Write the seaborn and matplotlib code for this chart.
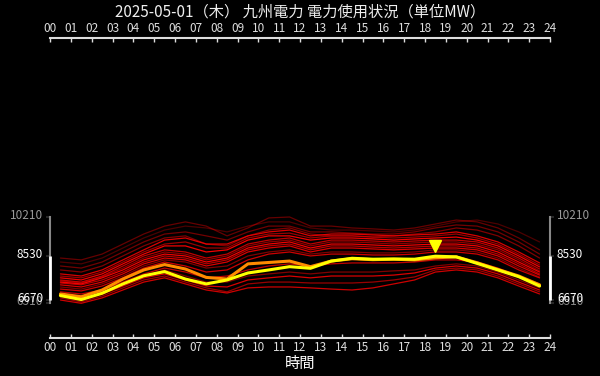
import numpy as np
import pandas as pd
import matplotlib
matplotlib.use("Agg")
import matplotlib.pyplot as plt
import matplotlib.transforms as mtransforms
import seaborn as sns


# chart data (MW, hourly values plotted at the middle of each hour)
title = "2025-05-01（木） 九州電力 電力使用状況（単位MW）"
x_label = "時間"
hour_labels = [f"{h:02d}" for h in range(25)]
hours = np.arange(24) + 0.5

today = [6840, 6670, 6940, 7340, 7690, 7870, 7550, 7340, 7510, 7810, 7940, 8080,
         8010, 8320, 8440, 8400, 8410, 8400, 8530, 8500, 8220, 7940, 7650, 7250]
yesterday = [6910, 6790, 7080, 7550, 7940, 8170, 7980, 7620, 7550, 8200, 8260, 8320,
             8080, 8320, 8420, 8380, 8400, 8370, 8460, 8500, 8250, 7960, 7680, 7300]

past_days = [
    [8280, 8200, 8450, 8880, 9310, 9650, 9820, 9740, 9570, 9820, 10000, 10000,
     9740, 9650, 9650, 9610, 9570, 9650, 9820, 10000, 10080, 9910, 9570, 9140],
    [8450, 8370, 8620, 9050, 9480, 9820, 10000, 9820, 9400, 9740, 10170, 10210,
     9820, 9820, 9740, 9700, 9650, 9740, 9910, 10080, 10000, 9740, 9310, 8800],
    [8110, 8020, 8280, 8710, 9140, 9480, 9570, 9400, 9220, 9570, 9820, 9820,
     9570, 9570, 9520, 9480, 9480, 9570, 9740, 9870, 9820, 9570, 9140, 8620],
    [7940, 7850, 8110, 8540, 8970, 9310, 9400, 9050, 8970, 9400, 9650, 9740,
     9480, 9400, 9400, 9350, 9400, 9480, 9570, 9740, 9650, 9400, 8970, 8450],
    [7770, 7680, 7940, 8370, 8800, 9220, 9310, 9050, 9050, 9400, 9570, 9650,
     9400, 9480, 9480, 9440, 9400, 9440, 9480, 9570, 9400, 9140, 8710, 8240],
    [7680, 7600, 7850, 8280, 8710, 9050, 9140, 8880, 8880, 9310, 9480, 9520,
     9310, 9400, 9400, 9350, 9310, 9350, 9400, 9480, 9310, 9050, 8620, 8150],
    [7600, 7510, 7770, 8200, 8620, 8970, 8970, 8710, 8800, 9220, 9400, 9400,
     9220, 9310, 9310, 9270, 9220, 9270, 9310, 9350, 9220, 8970, 8540, 8070],
    [7510, 7420, 7680, 8110, 8540, 8800, 8710, 8450, 8620, 9050, 9220, 9310,
     9050, 9220, 9220, 9180, 9140, 9180, 9220, 9220, 9140, 8880, 8450, 7980],
    [7470, 7380, 7640, 8020, 8450, 8710, 8620, 8370, 8540, 8970, 9140, 9220,
     8970, 9140, 9140, 9100, 9050, 9100, 9140, 9140, 9050, 8800, 8370, 7900],
    [7420, 7340, 7600, 7940, 8370, 8620, 8540, 8280, 8450, 8880, 9050, 9140,
     8880, 9050, 9050, 9010, 8970, 9010, 9050, 9050, 8970, 8710, 8280, 7850],
    [7380, 7300, 7510, 7850, 8280, 8540, 8450, 8200, 8370, 8800, 8970, 9050,
     8800, 8970, 8970, 8920, 8880, 8920, 8970, 8970, 8880, 8620, 8200, 7770],
    [7300, 7210, 7420, 7770, 8200, 8450, 8370, 8110, 8280, 8710, 8880, 8970,
     8710, 8880, 8880, 8840, 8800, 8840, 8880, 8880, 8800, 8540, 8110, 7720],
    [7210, 7120, 7340, 7680, 8110, 8370, 8280, 8020, 8110, 8540, 8710, 8800,
     8620, 8710, 8710, 8670, 8670, 8710, 8800, 8800, 8710, 8450, 8020, 7640],
    [7120, 7040, 7250, 7600, 8020, 8280, 8110, 7850, 7940, 8370, 8620, 8710,
     8540, 8620, 8620, 8580, 8580, 8620, 8710, 8710, 8620, 8370, 7940, 7600],
    [7000, 6910, 7080, 7420, 7770, 8020, 7850, 7600, 7680, 7940, 8110, 8200,
     8110, 8200, 8240, 8240, 8240, 8280, 8370, 8370, 8280, 8020, 7680, 7340],
    [6910, 6820, 7000, 7340, 7680, 7940, 7680, 7420, 7420, 7680, 7770, 7850,
     7770, 7850, 7850, 7850, 7900, 7940, 8110, 8200, 8110, 7850, 7510, 7170],
    [6820, 6740, 6910, 7250, 7600, 7770, 7510, 7250, 7210, 7510, 7600, 7680,
     7600, 7680, 7680, 7680, 7720, 7810, 8020, 8110, 8020, 7770, 7420, 7080],
    [6740, 6570, 6820, 7170, 7510, 7680, 7420, 7170, 7000, 7340, 7420, 7420,
     7380, 7380, 7380, 7420, 7510, 7640, 7940, 8020, 7940, 7680, 7340, 7000],
    [6650, 6510, 6740, 7080, 7420, 7600, 7340, 7080, 6950, 7170, 7210, 7210,
     7170, 7120, 7080, 7170, 7340, 7510, 7850, 7940, 7850, 7600, 7250, 6910],
]
# how strongly each past day is drawn
past_alpha = [0.3, 0.4, 0.45, 0.5,
              0.85, 0.6, 0.95, 0.75, 0.55, 0.95, 0.7, 0.85, 0.5, 0.8,
              0.75, 0.5, 0.85, 0.6, 0.8]


sns.set_theme(style="dark", rc={"axes.facecolor": "black",
                                "figure.facecolor": "black",
                                "savefig.facecolor": "black"})
plt.rcParams['font.family'] = ['Noto Sans CJK JP', 'DejaVu Sans']

fig = plt.figure(figsize=(6, 3.76), dpi=100)
ax = fig.add_axes([50/600, 38/376, 500/600, 300/376])

for vals, a in zip(past_days, past_alpha):
    sns.lineplot(x=hours, y=vals, color="#ff0000", alpha=a, lw=0.9, ax=ax)

sns.lineplot(x=hours, y=yesterday, color="#ff8c00", lw=2.2, ax=ax)
sns.lineplot(x=hours, y=today, color="#ffff00", lw=2.2, ax=ax)

# peak marker above today's maximum
peak_i = int(np.argmax(today))
ax.plot(hours[peak_i], today[peak_i] + 450, marker="v", color="#ffff00",
        ms=8, ls="none")

all_vals = np.array(past_days + [today])
overall_max, overall_min = int(all_vals.max()), int(all_vals.min())
today_max, today_min = max(today), min(today)

ax.set_xlim(0, 24)
ax.set_ylim(5022, 17884)

# x axis on both top and bottom
ax.set_xticks(range(25))
ax.set_xticklabels(hour_labels)
ax.tick_params(axis="x", top=True, bottom=True, labeltop=True, labelbottom=True,
               direction="in", length=3, width=1, colors="#dddddd",
               labelsize=8.5, pad=2)
for s in ["top", "bottom"]:
    ax.spines[s].set_color("#dddddd")
    ax.spines[s].set_linewidth(1.5)

# y axis: overall range in gray, today's range in white
yt = [overall_min, today_min, today_max, overall_max]
ax.set_yticks(yt)
ax.set_yticklabels([str(v) for v in yt])
ax.tick_params(axis="y", left=True, right=True, labelleft=True, labelright=True,
               direction="out", length=3, width=1.5, labelsize=8.5, pad=2)
tick_cols = ["#888888", "#ffffff", "#ffffff", "#999999"]
lift = mtransforms.ScaledTranslation(0, 3/100, fig.dpi_scale_trans)
for t, c in zip(ax.yaxis.get_major_ticks(), tick_cols):
    for lab in (t.label1, t.label2):
        lab.set_color(c)
        lab.set_transform(lab.get_transform() + lift)
    t.tick1line.set_color(c)
    t.tick2line.set_color(c)

for s in ["left", "right"]:
    ax.spines[s].set_bounds(overall_min, overall_max)
    ax.spines[s].set_color("#888888")
    ax.spines[s].set_linewidth(1.5)
ax.vlines([0, 24], today_min, today_max, color="white", lw=2, clip_on=False, zorder=5)

ax.grid(False)
ax.set_xlabel(x_label, color="white", fontsize=11, labelpad=1)
ax.set_ylabel("")
fig.text(0.5, 1 - 12/376, title, ha="center", va="center", color="#eeeeee", fontsize=11)

fig.savefig("out.png", dpi=100, facecolor="black")
